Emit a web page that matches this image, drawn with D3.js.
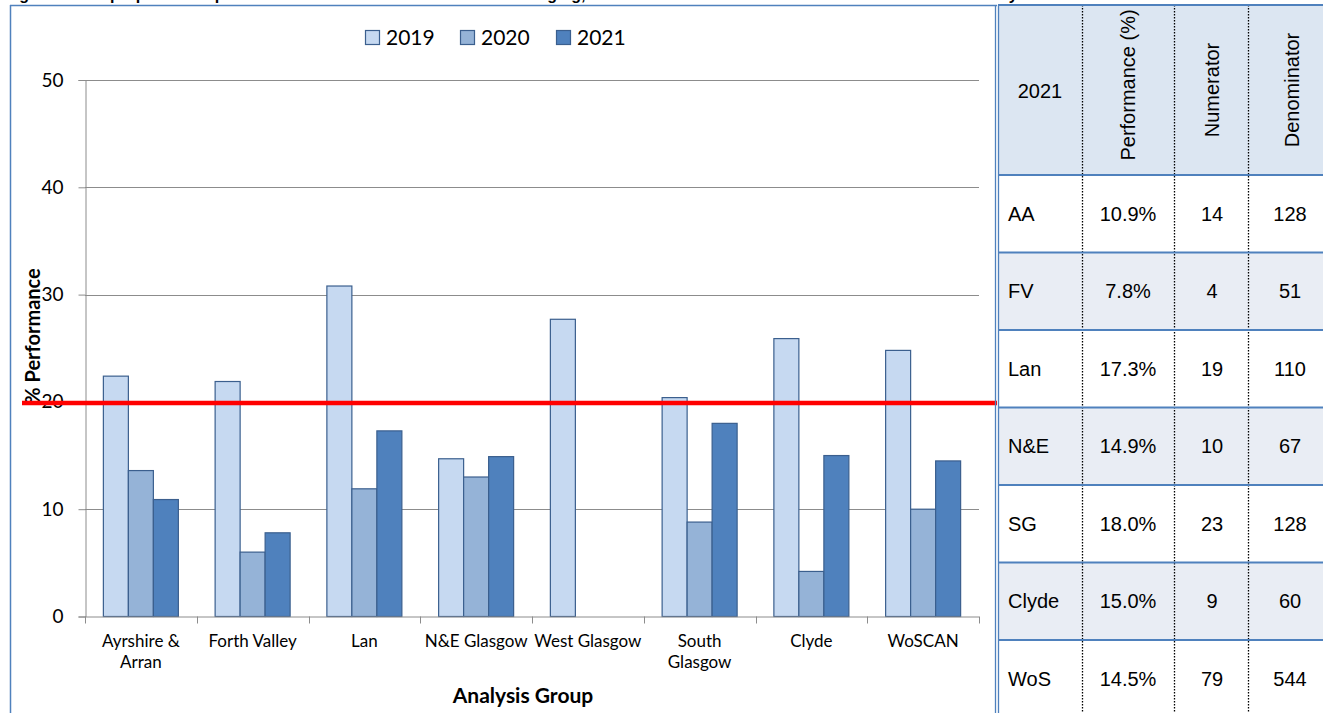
<!DOCTYPE html>
<html>
<head>
<meta charset="utf-8">
<script src="https://cdn.jsdelivr.net/npm/d3@7"></script>
<style>
  html, body { margin: 0; padding: 0; background: #ffffff; }
  svg { display: block; }
</style>
</head>
<body>
<svg id="fig" width="1323" height="713"></svg>
<script>
// ---- chart data ----
const groups = ["Ayrshire & Arran", "Forth Valley", "Lan", "N&E Glasgow", "West Glasgow", "South Glasgow", "Clyde", "WoSCAN"];
const groupLines = [["Ayrshire &", "Arran"], ["Forth Valley"], ["Lan"], ["N&E Glasgow"], ["West Glasgow"], ["South", "Glasgow"], ["Clyde"], ["WoSCAN"]];
const years = ["2019", "2020", "2021"];
const perf2019 = [22.4, 21.9, 30.8, 14.7, 27.7, 20.4, 25.9, 24.8];
const perf2020 = [13.6, 6.0, 11.9, 13.0, null, 8.8, 4.2, 10.0];
const perf2021 = [10.9, 7.8, 17.3, 14.9, null, 18.0, 15.0, 14.5];
const yTicks = [0, 10, 20, 30, 40, 50];
const target = 20;

// ---- table data (2021) ----
const tableRows = ["AA", "FV", "Lan", "N&E", "SG", "Clyde", "WoS"];
const tablePerf = ["10.9%", "7.8%", "17.3%", "14.9%", "18.0%", "15.0%", "14.5%"];
const tableNum = [14, 4, 19, 10, 23, 9, 79];
const tableDen = [128, 51, 110, 67, 128, 60, 544];
const tableHead = ["2021", "Performance (%)", "Numerator", "Denominator"];

const svg = d3.select("#fig");
const chartFont = "Lato, 'Open Sans', sans-serif";
const tableFont = "'Liberation Sans', Arial, sans-serif";
const frameBlue = "#4f81bd";

// figure caption (runs off the top edge of the page)
svg.append("text")
  .attr("x", 5).attr("y", 0)
  .attr("font-family", tableFont).attr("font-weight", "bold").attr("font-size", 16)
  .text("Figure 9: The proportion of patients with a decision made at or after staging, shown for each Health Board and the overall network by");

// chart frame
svg.append("line").attr("x1", 10.5).attr("x2", 10.5).attr("y1", 5).attr("y2", 713)
  .attr("stroke", frameBlue).attr("stroke-width", 1.5);
svg.append("line").attr("x1", 10).attr("x2", 997).attr("y1", 5.5).attr("y2", 5.5)
  .attr("stroke", frameBlue).attr("stroke-width", 1.5);

// scales
const plotL = 85, plotR = 979, plotT = 80, plotB = 616.5;
const x = d3.scaleBand().domain(groups).range([plotL, plotR]).paddingInner(0).paddingOuter(0);
const xSub = d3.scaleBand().domain(years).range([0, x.bandwidth()]).paddingInner(0).paddingOuter(0.735);
const y = d3.scaleLinear().domain([0, 50]).range([plotB, plotT]);
const fills = { "2019": "#c6d9f1", "2020": "#95b3d7", "2021": "#4f81bd" };
const strokeCol = "#3b5f8e";
const gridCol = "#8c8c8c";

// gridlines
svg.append("g").selectAll("line").data(yTicks.filter(d => d > 0)).join("line")
  .attr("x1", plotL).attr("x2", plotR)
  .attr("y1", d => Math.round(y(d)) + 0.5).attr("y2", d => Math.round(y(d)) + 0.5)
  .attr("stroke", gridCol).attr("stroke-width", 1);

// y axis
const yAxis = svg.append("g").attr("transform", `translate(${plotL + 0.5},0)`)
  .call(d3.axisLeft(y).tickValues(yTicks).tickSize(7).tickPadding(15).tickFormat(d3.format("d")));
yAxis.select(".domain").attr("stroke", gridCol);
yAxis.selectAll(".tick line").attr("stroke", gridCol);
yAxis.selectAll(".tick text").attr("font-family", chartFont).attr("font-size", 19).attr("fill", "#000");

// bars
const series = years.map((yr, i) => ({ year: yr, values: [perf2019, perf2020, perf2021][i] }));
const barData = [];
series.forEach(s => s.values.forEach((v, gi) => { if (v != null) barData.push({ year: s.year, group: groups[gi], value: v }); }));
svg.append("g").selectAll("rect").data(barData).join("rect")
  .attr("x", d => x(d.group) + xSub(d.year))
  .attr("width", xSub.bandwidth())
  .attr("y", d => y(d.value))
  .attr("height", d => y(0) - y(d.value))
  .attr("fill", d => fills[d.year])
  .attr("stroke", strokeCol).attr("stroke-width", 1.2);

// x axis line with boundary ticks
const xg = svg.append("g");
xg.append("line").attr("x1", plotL).attr("x2", plotR).attr("y1", plotB + 0.5).attr("y2", plotB + 0.5)
  .attr("stroke", gridCol);
const bounds = groups.map(g => x(g)).concat([x(groups[groups.length - 1]) + x.bandwidth()]);
xg.selectAll("line.tk").data(bounds).join("line").attr("class", "tk")
  .attr("x1", d => Math.round(d) + 0.5).attr("x2", d => Math.round(d) + 0.5)
  .attr("y1", plotB).attr("y2", plotB + 7).attr("stroke", gridCol);

// category labels
const lab = svg.append("g").attr("font-family", chartFont).attr("font-size", 17).attr("text-anchor", "middle");
groups.forEach((g, i) => {
  const cx = x(g) + x.bandwidth() / 2;
  const t = lab.append("text").attr("x", cx).attr("y", 647);
  groupLines[i].forEach((ln, j) => t.append("tspan").attr("x", cx).attr("dy", j === 0 ? 0 : 21).text(ln));
});

// axis titles
svg.append("text").attr("x", 523).attr("y", 703).attr("text-anchor", "middle")
  .attr("font-family", chartFont).attr("font-weight", "bold").attr("font-size", 21).text("Analysis Group");
svg.append("text").attr("transform", "translate(40,336) rotate(-90)").attr("text-anchor", "middle")
  .attr("font-family", chartFont).attr("font-weight", "bold").attr("font-size", 20).text("% Performance");

// target line
svg.append("line").attr("x1", 22).attr("x2", 997).attr("y1", y(target) + 1).attr("y2", y(target) + 1)
  .attr("stroke", "#ff0000").attr("stroke-width", 4.5);

// legend
const legend = svg.append("g").attr("font-family", chartFont).attr("font-size", 21);
const legX = [365, 460, 556];
years.forEach((yr, i) => {
  legend.append("rect").attr("x", legX[i] + 0.5).attr("y", 30.5).attr("width", 14).attr("height", 14)
    .attr("fill", fills[yr]).attr("stroke", strokeCol).attr("stroke-width", 1.2);
  legend.append("text").attr("x", legX[i] + 21).attr("y", 45).text(yr);
});

// ---- table ----
const tb = svg.append("g").attr("font-family", tableFont).attr("font-size", 20).attr("fill", "#000");
const colX = [998, 1082, 1174, 1248, 1323];
const headTop = 5, headBot = 175, rowH = 77.5;
tb.append("rect").attr("x", colX[0]).attr("y", headTop).attr("width", colX[4] - colX[0]).attr("height", headBot - headTop)
  .attr("fill", "#dce6f2");
tableRows.forEach((r, i) => {
  tb.append("rect").attr("x", colX[0]).attr("y", headBot + i * rowH).attr("width", colX[4] - colX[0]).attr("height", rowH)
    .attr("fill", i % 2 === 1 ? "#e9edf4" : "#ffffff");
});
// column dividers (dotted)
tb.selectAll("line.col").data(colX.slice(1, 4)).join("line").attr("class", "col")
  .attr("x1", d => d + 0.5).attr("x2", d => d + 0.5).attr("y1", headTop).attr("y2", 713)
  .attr("stroke", "#000").attr("stroke-width", 1.3).attr("stroke-dasharray", "1.5,1.5");
// row rules
const ruleY = [headTop, headBot].concat(tableRows.map((r, i) => headBot + (i + 1) * rowH));
tb.selectAll("line.row").data(ruleY).join("line").attr("class", "row")
  .attr("x1", colX[0]).attr("x2", colX[4]).attr("y1", d => d).attr("y2", d => d)
  .attr("stroke", frameBlue).attr("stroke-width", 2);
// double left border
[995.5, 998.5].forEach(xx => tb.append("line").attr("x1", xx).attr("x2", xx).attr("y1", 5).attr("y2", 713)
  .attr("stroke", frameBlue).attr("stroke-width", 1.3));

// header cells
tb.append("text").attr("x", 1040).attr("y", 98).attr("text-anchor", "middle").text(tableHead[0]);
const headX = [null, 1135, 1219, 1299];
[1, 2, 3].forEach(c => {
  tb.append("text").attr("transform", `translate(${headX[c]},${c === 1 ? 85 : 90}) rotate(-90)`)
    .attr("text-anchor", "middle").text(tableHead[c]);
});
// body cells
tableRows.forEach((r, i) => {
  const cy = headBot + i * rowH + rowH / 2 + 7;
  tb.append("text").attr("x", 1008).attr("y", cy).text(r);
  tb.append("text").attr("x", 1128).attr("y", cy).attr("text-anchor", "middle").text(tablePerf[i]);
  tb.append("text").attr("x", 1212).attr("y", cy).attr("text-anchor", "middle").text(tableNum[i]);
  tb.append("text").attr("x", 1290).attr("y", cy).attr("text-anchor", "middle").text(tableDen[i]);
});
</script>
</body>
</html>
